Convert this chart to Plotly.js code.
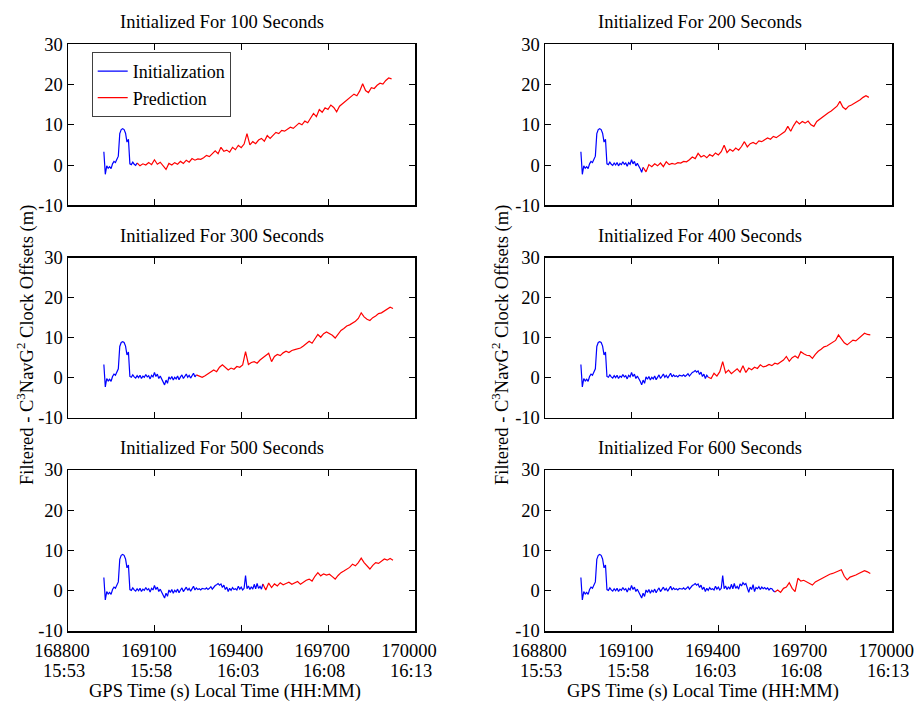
<!DOCTYPE html>
<html>
<head>
<meta charset="utf-8">
<script src="https://cdn.plot.ly/plotly-3.0.1.min.js"></script>
<style>html,body{margin:0;padding:0;background:#fff;}#chart{width:915px;height:702px;}</style>
</head>
<body>
<div id="chart"></div>
<script>
// ---------- DATA ----------
const panelSeconds = [100, 200, 300, 400, 500, 600];

// Filtered - C3NavG2 clock offsets during initialization (m), 5 s sampling from initStart
const initStart = 168924;
const initStep = 5;
const initOffset = [
  3.3, -2.3, -0.2, -0.8, -0.4, -0.9, 0.3, 0.9, 0.6, 1.5,
  2.2, 7.8, 8.8, 9.0, 8.8, 7.9, 5.7, 6.4, 0.3, 0.1,
  0.7, 0.2, -0.1, 0.5, 0.0, 0.6, -0.2, 0.4, 0.1, 0.8,
  0.2, 0.5, -0.3, 0.6, 0.2, 1.3, 0.3, 0.9, -0.2, 0.4,
  -0.5, -0.9, -1.8, -0.6, -1.4, 0.2, -0.4, 0.3, -0.6, 0.1,
  -0.3, 0.4, -0.5, 0.2, 0.7, -0.2, 0.5, 0.9, 0.1, 0.6,
  -0.1, 0.4, 1.1, 0.2, 0.7, 0.3, 0.5, 0.2, 0.6, 0.5,
  0.4, 0.7, 0.3, 0.6, 1.0, 0.4, 0.9, 1.3, 1.5, 1.8,
  1.4, 1.7, 0.8, 1.4, 0.3, 0.9, -0.2, 0.6, 0.1, 0.8,
  0.3, 0.5, 0.2, 1.1, 0.4, 0.9, 0.2, 0.6, 3.8, 0.5,
  1.2, 0.3, 1.0, 0.4, 1.6, 0.5, 1.8, 0.6, 1.1, 0.4,
  1.7, 1.2, 2.0, 1.5, 1.8, 0.8, -0.4, 0.9, 0.3, 1.5,
  -0.2, 0.8, 0.5, 1.0, 0.3, 0.9, 0.5, 0.8, 0.4, 0.7,
  0.2, 0.6, 0.5, 0.0, -0.3
];

// GPS time at which each initialization ends (prediction starts)
const initEnd = [169039, 169139, 169244, 169364, 169474, 169594];

// Prediction residuals (m), 10 s sampling from initEnd
const predStep = 10;
const pred100 = [
  0.5, -0.2, 0.3, 0.0, 0.6, 0.1, 1.3, 0.2, 0.7, -0.3,
  -1.1, 0.4, 0.0, 0.6, 0.2, 0.9, 0.4, 1.2, 0.7, 1.6,
  1.2, 1.5, 1.4, 1.8, 2.4, 2.1, 2.9, 3.5, 2.8, 4.4,
  3.4, 3.7, 3.2, 4.4, 3.8, 4.9, 4.3, 5.2, 7.8, 5.0,
  5.8, 5.3, 6.2, 6.6, 5.9, 7.3, 6.6, 7.5, 8.1, 7.8,
  8.6, 8.4, 8.9, 9.4, 9.1, 9.8, 10.4, 10.0, 10.9, 10.5,
  11.6, 12.8, 12.0, 13.8, 13.1, 14.2, 13.8, 14.9, 14.3, 13.2,
  14.6, 15.2, 15.9, 16.4, 17.0, 17.6, 17.2, 18.4, 20.2, 18.5,
  18.0, 19.2, 19.0, 19.8, 20.3, 20.1, 21.0, 21.6, 21.4
];
const pred200 = [
  -0.6, -1.7, 0.1, -0.4, 0.3, -0.2, 0.5, -0.4, 0.8, 0.1,
  0.4, 0.2, 0.6, 0.5, 0.9, 0.8, 1.3, 2.0, 1.6, 2.9,
  2.0, 2.4, 1.8, 2.6, 2.2, 3.0, 2.5, 3.3, 4.9, 3.1,
  3.9, 3.4, 4.2, 3.7, 4.6, 5.8, 4.5, 5.3, 5.6, 5.2,
  6.0, 5.8, 6.3, 6.7, 6.4, 7.1, 6.8, 7.3, 7.9, 8.3,
  9.6, 8.4, 9.8, 10.9, 10.2, 10.8, 10.4, 10.9, 10.0, 9.6,
  10.8, 11.4, 11.9, 12.5, 13.0, 13.4, 13.9, 14.6, 15.8, 14.4,
  13.8, 14.6, 14.9, 15.3, 15.9, 16.2, 16.8, 17.2, 16.8
];
const pred300 = [
  0.7, 0.4, 0.1, 0.5, 0.9, 1.3, 1.9, 1.5, 2.6, 3.2,
  2.5, 1.9, 2.4, 2.1, 2.8, 2.6, 3.2, 6.5, 3.3, 3.8,
  4.0, 3.6, 4.4, 4.9, 5.5, 6.1, 4.0, 5.3, 5.8, 5.5,
  6.2, 6.6, 6.3, 6.8, 7.0, 7.2, 7.4, 7.9, 8.4, 9.1,
  8.6, 9.7, 10.8, 10.1, 11.0, 11.4, 11.0, 10.6, 9.9, 11.0,
  11.8, 12.3, 12.9, 13.2, 13.6, 14.1, 14.8, 16.2, 15.2, 14.6,
  14.3, 15.0, 15.4, 16.0, 16.2, 16.6, 17.0, 17.6, 17.3
];
const pred400 = [
  0.1, -0.2, 1.1, 0.4, 1.5, 4.0, 1.2, 1.9, 1.0, 1.5,
  2.2, 1.4, 3.0, 1.3, 2.4, 2.0, 2.6, 2.3, 3.2, 2.7,
  2.9, 3.3, 3.0, 3.6, 3.4, 3.9, 4.4, 5.3, 4.1, 5.0,
  5.4, 4.9, 6.5, 6.0, 5.6, 5.5, 4.8, 5.8, 6.6, 7.1,
  7.7, 7.9, 8.4, 8.7, 9.3, 10.7, 9.6, 8.7, 8.2, 8.9,
  9.4, 9.2, 9.9, 10.5, 11.1, 10.8, 10.7
];
const pred500 = [
  1.7, 0.2, 1.9, 0.8, 1.7, 1.2, 2.0, 1.5, 1.8, 2.1,
  1.6, 1.9, 2.3, 1.6, 2.2, 2.6, 2.9, 2.4, 3.6, 4.5,
  3.7, 4.2, 3.9, 4.1, 3.5, 2.9, 3.8, 4.5, 4.9, 5.4,
  5.8, 6.6, 6.2, 7.0, 8.1, 7.0, 6.1, 5.4, 6.3, 7.0,
  6.8, 7.3, 7.9, 7.6, 8.0, 7.6
];
const pred600 = [
  -0.3, 0.2, -0.4, 0.6, 0.9, 2.0, 0.6, -0.2, 3.1, 2.4,
  2.6, 2.2, 1.8, 1.4, 2.2, 2.6, 3.1, 3.3, 3.7, 4.1,
  4.3, 4.6, 5.0, 5.2, 3.6, 2.7, 3.4, 3.6, 3.9, 4.3,
  4.6, 5.0, 4.7, 4.3
];
const predSeries = [pred100, pred200, pred300, pred400, pred500, pred600];

// Axis ticks
const xTickVals = [168800, 169100, 169400, 169700, 170000];
const xTickText = ['168800', '169100', '169400', '169700', '170000'];
const localTimeText = ['15:53', '15:58', '16:03', '16:08', '16:13'];
const yTickVals = [-10, 0, 10, 20, 30];
const yTickText = ['-10', '0', '10', '20', '30'];

// ---------- LAYOUT HELPERS ----------
const W = 915, H = 702;
const FONT = 'Liberation Serif, Times New Roman, serif';
const FS = 18.5;
const colDom = [[68 / W, 415 / W], [545 / W, 892.3 / W]];
const rowTopPx = [44.2, 257.6, 470];
const rowBotPx = [205.3, 417.7, 631];
const titleXPx = [222, 700];
const xTitleXPx = [225, 703];
const yTitleXPx = [25, 500];

const initTime = initOffset.map((_, i) => initStart + i * initStep);

const traces = [];
const layout = {
  width: W, height: H,
  margin: {l: 0, r: 0, t: 0, b: 0},
  paper_bgcolor: '#ffffff',
  plot_bgcolor: '#ffffff',
  font: {family: FONT, size: FS, color: '#000'},
  showlegend: true,
  legend: {
    x: 91.7 / W, y: 1 - 52 / H, xanchor: 'left', yanchor: 'top',
    bgcolor: '#ffffff', bordercolor: '#404040', borderwidth: 1,
    font: {family: FONT, size: 18, color: '#000'},
    itemwidth: 30, tracegroupgap: 0
  },
  annotations: []
};

for (let p = 0; p < 6; p++) {
  const row = Math.floor(p / 2), col = p % 2;
  const k = p + 1;
  const xa = 'x' + k, ya = 'y' + k;
  const xName = 'xaxis' + (k === 1 ? '' : k), yName = 'yaxis' + (k === 1 ? '' : k);

  const bx = [], by = [];
  initTime.forEach((t, i) => { if (t <= initEnd[p]) { bx.push(t); by.push(initOffset[i]); } });
  traces.push({
    type: 'scatter', mode: 'lines', x: bx, y: by, xaxis: xa, yaxis: ya,
    name: 'Initialization', legendgroup: 'init', showlegend: p === 0,
    line: {color: '#0000ff', width: 1.2}, hoverinfo: 'skip'
  });
  const pv = predSeries[p];
  traces.push({
    type: 'scatter', mode: 'lines',
    x: pv.map((_, i) => initEnd[p] + i * predStep), y: pv,
    xaxis: xa, yaxis: ya,
    name: 'Prediction', legendgroup: 'pred', showlegend: p === 0,
    line: {color: '#ff0000', width: 1.2}, hoverinfo: 'skip'
  });

  const yDom = [1 - rowBotPx[row] / H, 1 - rowTopPx[row] / H];
  const xAxis = {
    domain: colDom[col], range: [168800, 170000], anchor: ya,
    tickmode: 'array', tickvals: xTickVals, ticktext: xTickText,
    ticks: 'inside', ticklen: 6, tickwidth: 1, tickcolor: '#000',
    showline: true, linecolor: '#000', linewidth: 1.5, mirror: 'ticks',
    showgrid: false, zeroline: false,
    tickfont: {family: FONT, size: FS, color: '#000'}
  };
  if (row === 2) {
    xAxis.showticklabels = true;
    xAxis.ticklabelshift = -6;
    xAxis.ticklabelstandoff = 2;
  } else {
    xAxis.showticklabels = false;
  }
  layout[xName] = xAxis;
  layout[yName] = {
    domain: yDom, range: [-10, 30], anchor: xa,
    tickmode: 'array', tickvals: yTickVals, ticktext: yTickText,
    ticks: 'inside', ticklen: 6, tickwidth: 1, tickcolor: '#000',
    showline: true, linecolor: '#000', linewidth: 1.5, mirror: 'ticks',
    showgrid: false, zeroline: false,
    tickfont: {family: FONT, size: FS, color: '#000'}
  };

  // Panel title
  layout.annotations.push({
    xref: 'paper', yref: 'paper', x: titleXPx[col] / W, y: 1 - (rowTopPx[row] - 22) / H,
    xanchor: 'center', yanchor: 'middle', showarrow: false,
    text: 'Initialized For ' + panelSeconds[p] + ' Seconds',
    font: {family: FONT, size: FS, color: '#000'}
  });

  if (row === 2) {
    // Local time second label line
    xTickVals.forEach((v, i) => {
      layout.annotations.push({
        xref: xa, yref: 'paper', x: v, y: 1 - 671 / H, xshift: -4,
        xanchor: 'center', yanchor: 'middle', showarrow: false,
        text: localTimeText[i], font: {family: FONT, size: FS, color: '#000'}
      });
    });
    layout.annotations.push({
      xref: 'paper', yref: 'paper', x: xTitleXPx[col] / W, y: 1 - 691 / H,
      xanchor: 'center', yanchor: 'middle', showarrow: false,
      text: 'GPS Time (s) Local Time (HH:MM)', font: {family: FONT, size: FS, color: '#000'}
    });
  }
  if (row === 1) {
    layout.annotations.push({
      xref: 'paper', yref: 'paper', x: yTitleXPx[col] / W, y: 1 - 345 / H,
      xanchor: 'center', yanchor: 'middle', showarrow: false, textangle: -90,
      text: 'Filtered - C<sup>3</sup>NavG<sup>2</sup> Clock Offsets (m)',
      font: {family: FONT, size: FS, color: '#000'}
    });
  }
}

Plotly.newPlot('chart', traces, layout, {staticPlot: true, displayModeBar: false});
</script>
</body>
</html>
